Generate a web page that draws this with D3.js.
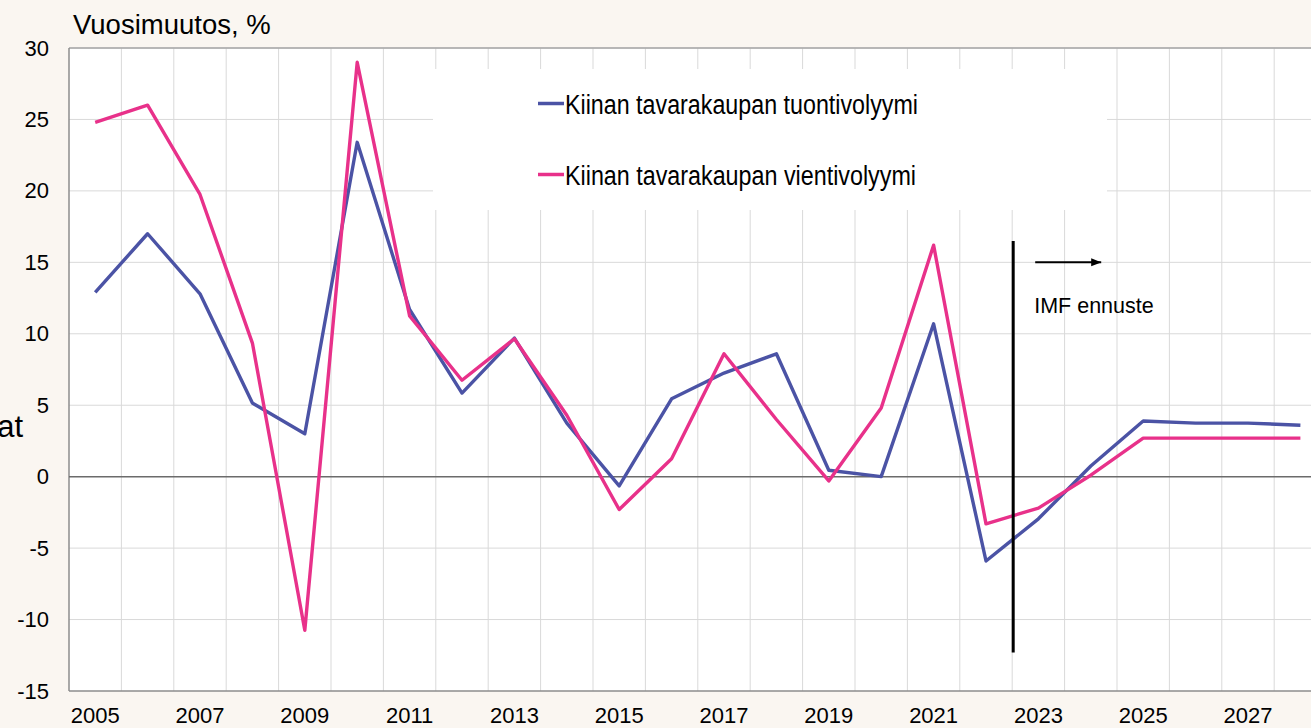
<!DOCTYPE html>
<html>
<head>
  <meta charset="utf-8">
  <style>
    html, body { margin: 0; overflow: hidden; background: #faf6f1; }
    svg { display: block; font-family: "Liberation Sans", Arial, sans-serif; }
    .grid line { stroke: #d9d9d9; stroke-width: 1px; }
    .tick text { fill: #000; }
  </style>
  <script src="https://d3js.org/d3.v7.min.js"></script>
</head>
<body>
  <svg id="svg" width="1311" height="728"></svg>
  <script>
    var years = [2005, 2006, 2007, 2008, 2009, 2010, 2011, 2012, 2013, 2014, 2015, 2016,
                 2017, 2018, 2019, 2020, 2021, 2022, 2023, 2024, 2025, 2026, 2027, 2028];
    var tuonti = [12.9, 17.0, 12.8, 5.15, 3.0, 23.4, 11.7, 5.85, 9.7, 3.75, -0.65, 5.45,
                  7.25, 8.6, 0.45, 0.0, 10.7, -5.9, -2.95, 0.75, 3.9, 3.75, 3.75, 3.6];
    var vienti = [24.8, 26.0, 19.75, 9.35, -10.75, 29.0, 11.25, 6.75, 9.65, 4.3, -2.3, 1.25,
                  8.6, 4.0, -0.3, 4.8, 16.2, -3.3, -2.2, 0.1, 2.7, 2.7, 2.7, 2.7];
    var yTicks = [-15, -10, -5, 0, 5, 10, 15, 20, 25, 30];
    var seriesNames = ["Kiinan tavarakaupan tuontivolyymi", "Kiinan tavarakaupan vientivolyymi"];
    var seriesColors = ["#4b53a5", "#e8318a"];

    var margin = {left: 69, top: 48};
    var step = 52.4;
    var width = step * years.length;
    var height = 643;

    var svg = d3.select("#svg");

    var x = d3.scaleBand().domain(years).range([0, width]);
    var y = d3.scaleLinear().domain([-15, 30]).range([height, 0]);

    var g = svg.append("g").attr("transform", "translate(" + margin.left + "," + margin.top + ")");

    g.append("rect").attr("width", width).attr("height", height).attr("fill", "#fff");

    // gridlines
    var grid = g.append("g").attr("class", "grid");
    grid.selectAll(".h").data(yTicks.filter(function(d){ return d !== 0 && d !== -15; }))
      .enter().append("line")
      .attr("x1", 0).attr("x2", width)
      .attr("y1", function(d){ return y(d); }).attr("y2", function(d){ return y(d); });
    grid.selectAll(".v").data(years.slice(1))
      .enter().append("line")
      .attr("x1", function(d){ return x(d); }).attr("x2", function(d){ return x(d); })
      .attr("y1", 0).attr("y2", height);

    // frame
    g.append("line").attr("x1", 0).attr("x2", width).attr("y1", 0).attr("y2", 0)
      .attr("stroke", "#a6a6a6").attr("stroke-width", 1.5);
    g.append("line").attr("x1", 0).attr("x2", width).attr("y1", height).attr("y2", height)
      .attr("stroke", "#8c8c8c").attr("stroke-width", 1.5);
    g.append("line").attr("x1", 0).attr("x2", 0).attr("y1", 0).attr("y2", height)
      .attr("stroke", "#8c8c8c").attr("stroke-width", 1.5);
    g.append("line").attr("x1", 0).attr("x2", width).attr("y1", y(0)).attr("y2", y(0))
      .attr("stroke", "#6b6b6b").attr("stroke-width", 1.5);

    // legend background hides grid
    g.append("rect")
      .attr("x", 433 - margin.left).attr("y", 69 - margin.top)
      .attr("width", 1107 - 433).attr("height", 210 - 69)
      .attr("fill", "#fff");

    // axes
    var yAxis = d3.axisLeft(y).tickValues(yTicks).tickSize(0).tickPadding(20)
      .tickFormat(function(d){ return String(d); });
    g.append("g").call(yAxis)
      .call(function(s){ s.select(".domain").remove(); })
      .selectAll("text").attr("font-size", 22).attr("font-family", "Liberation Sans, Arial, sans-serif");

    var xAxis = d3.axisBottom(x).tickValues(years.filter(function(d, i){ return i % 2 === 0; }))
      .tickSize(0).tickPadding(16);
    g.append("g").attr("transform", "translate(0," + height + ")").call(xAxis)
      .call(function(s){ s.select(".domain").remove(); })
      .selectAll("text").attr("font-size", 22).attr("font-family", "Liberation Sans, Arial, sans-serif");

    // lines
    var line = d3.line()
      .x(function(d, i){ return x(years[i]) + x.bandwidth() / 2; })
      .y(function(d){ return y(d); });

    [tuonti, vienti].forEach(function(s, i){
      g.append("path").datum(s)
        .attr("d", line)
        .attr("fill", "none")
        .attr("stroke", seriesColors[i])
        .attr("stroke-width", 3.4)
        .attr("stroke-linejoin", "round");
    });

    // forecast marker
    var fx = x(2023) + 1;
    g.append("line").attr("x1", fx).attr("x2", fx)
      .attr("y1", y(16.5)).attr("y2", y(-12.3))
      .attr("stroke", "#000").attr("stroke-width", 3);

    svg.append("defs").append("marker")
      .attr("id", "arrow").attr("viewBox", "0 0 10 10")
      .attr("refX", 10).attr("refY", 5)
      .attr("markerWidth", 5).attr("markerHeight", 5)
      .attr("orient", "auto")
      .append("path").attr("d", "M0,1 L10,5 L0,9 Z").attr("fill", "#000");

    g.append("line")
      .attr("x1", fx + 22).attr("x2", fx + 88)
      .attr("y1", y(15)).attr("y2", y(15))
      .attr("stroke", "#000").attr("stroke-width", 2)
      .attr("marker-end", "url(#arrow)");

    g.append("text")
      .attr("x", fx + 21).attr("y", 313 - margin.top)
      .attr("font-size", 21.5)
      .text("IMF ennuste");

    // legend
    var legend = svg.append("g");
    seriesNames.forEach(function(name, i){
      var ly = 103.5 + i * 71;
      legend.append("line")
        .attr("x1", 538).attr("x2", 564)
        .attr("y1", ly).attr("y2", ly)
        .attr("stroke", seriesColors[i]).attr("stroke-width", 3.5);
      legend.append("text")
        .attr("x", 565).attr("y", ly + 10)
        .attr("font-size", 27)
        .attr("textLength", i === 0 ? 353 : 351)
        .attr("lengthAdjust", "spacingAndGlyphs")
        .text(name);
    });

    // titles
    svg.append("text")
      .attr("x", 73).attr("y", 34)
      .attr("font-size", 27.5)
      .text("Vuosimuutos, %");

    svg.append("text")
      .attr("x", 23).attr("y", 437)
      .attr("text-anchor", "end")
      .attr("font-size", 31)
      .text("at");
  </script>
</body>
</html>
